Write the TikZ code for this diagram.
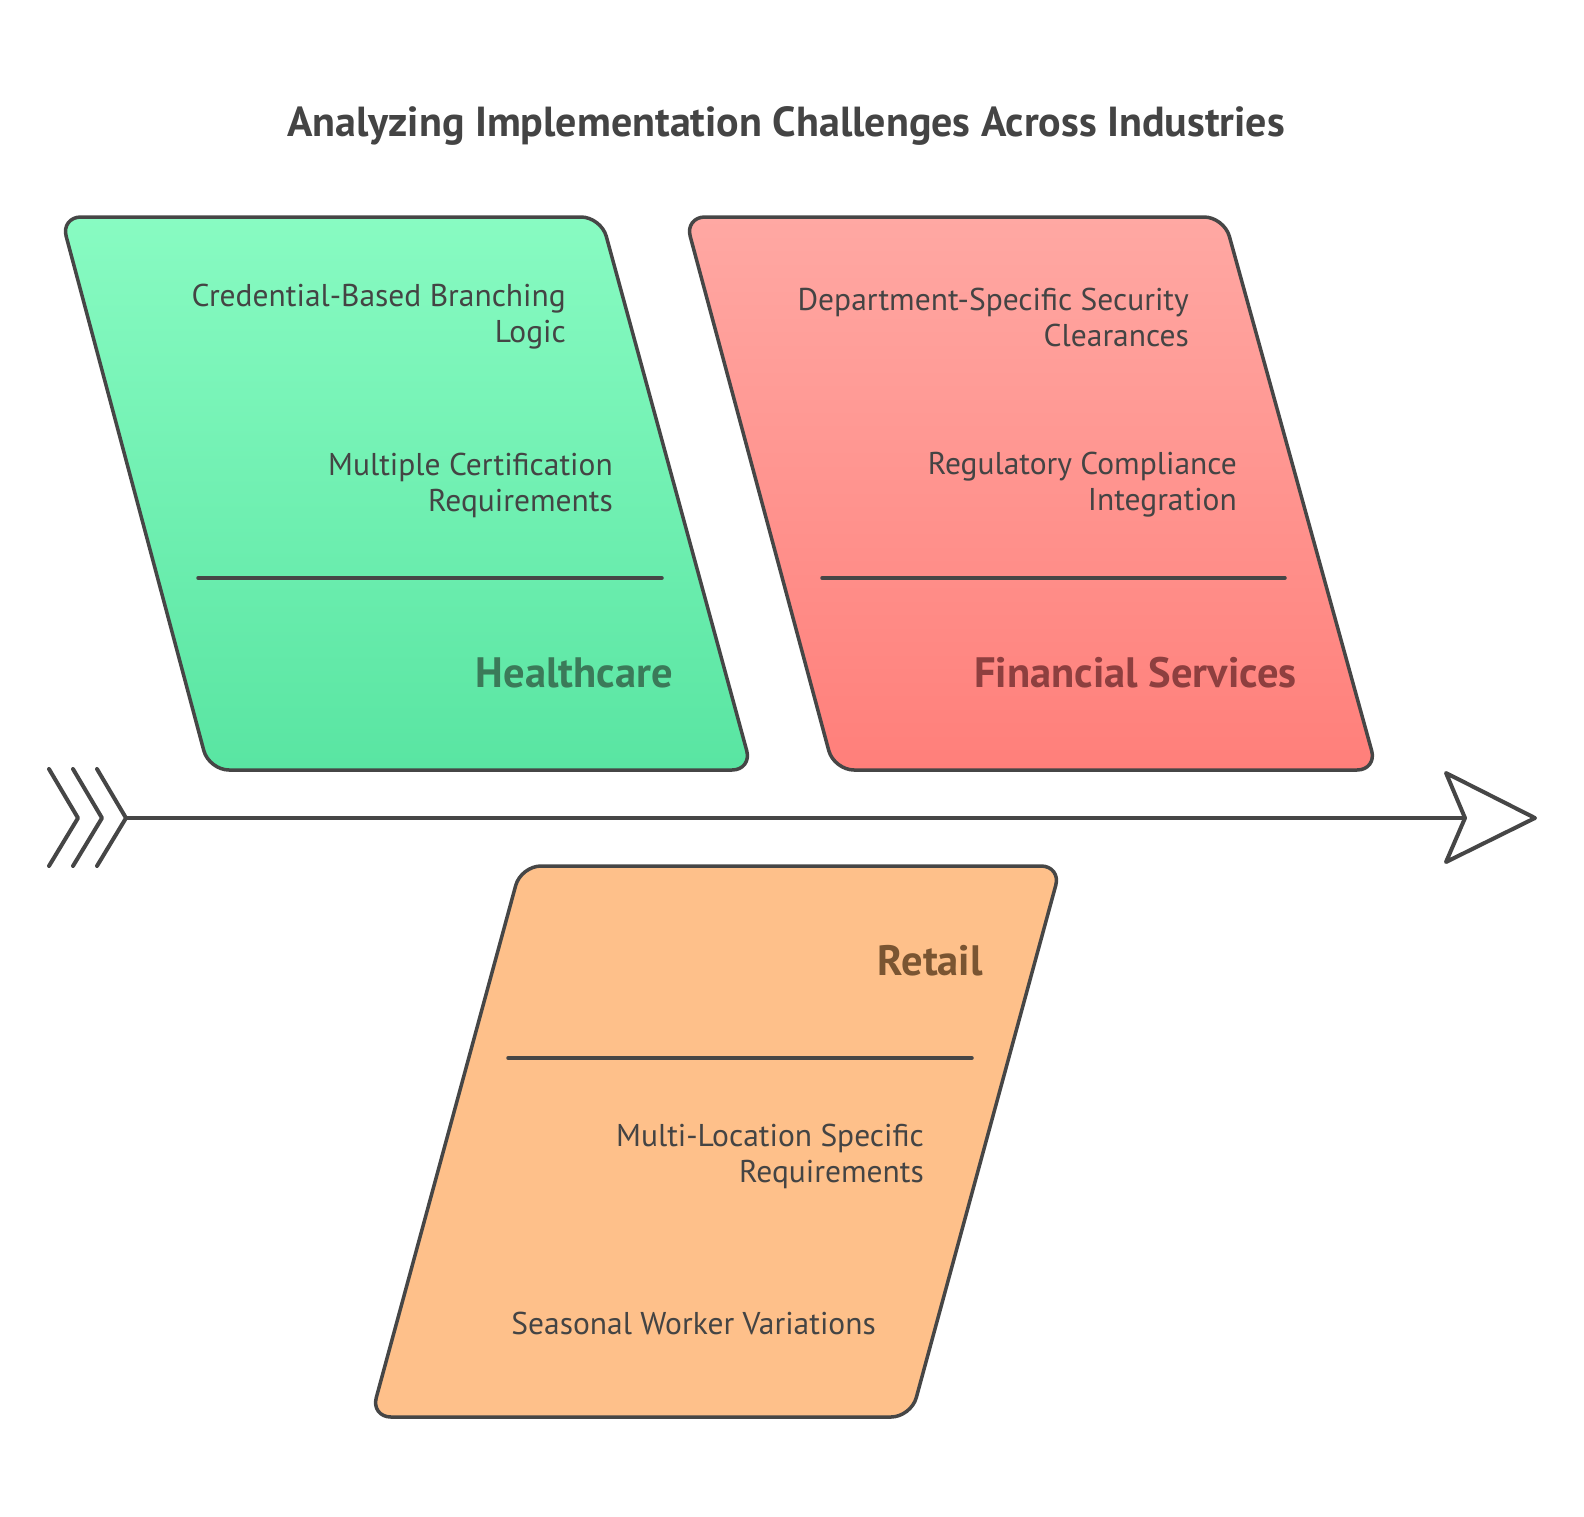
\documentclass[tikz,border=0pt]{standalone}
\usepackage{fontspec}
\setmainfont{PT Sans}
\usetikzlibrary{positioning}

\definecolor{edge}{HTML}{464646}
\definecolor{ink}{HTML}{444444}
\definecolor{hcTop}{HTML}{88FBC2}
\definecolor{hcBot}{HTML}{59E5A2}
\definecolor{hcInk}{HTML}{3B7A59}
\definecolor{fsTop}{HTML}{FFA8A3}
\definecolor{fsBot}{HTML}{FF7F7A}
\definecolor{fsInk}{HTML}{8E3F3F}
\definecolor{rtFill}{HTML}{FEC08A}
\definecolor{rtInk}{HTML}{7A5532}

\begin{document}
\begin{tikzpicture}[x=1pt,y=-1pt,line join=round,
    band/.style={draw=edge,line width=3.5pt,rounded corners=20pt},
    item/.style={anchor=east,align=right,text=ink,inner sep=0pt,
      font=\fontsize{31.5}{36}\selectfont},
    head/.style={anchor=east,inner sep=0pt,font=\fontsize{42.5}{48}\selectfont\bfseries},
    rule/.style={draw=edge,line width=3.5pt,line cap=round}]

  \useasboundingbox (0,0) rectangle (1584,1517);

  \node[text=ink,font=\fontsize{42}{48}\selectfont\bfseries] (title) at (786,126)
    {Analyzing Implementation Challenges Across Industries};

  % healthcare
  \path[band,top color=hcTop,bottom color=hcBot]
    (61,217) -- (601,217) -- (752,770) -- (209,770) -- cycle;
  \node[item] (cred) at (566,317) {Credential-Based Branching\\Logic};
  \node[item] (cert) at (613,485) {Multiple Certification\\Requirements};
  \draw[rule] (198,578) -- (662,578);
  \node[head,text=hcInk] (hc) at (673,673) {Healthcare};

  % financial services
  \path[band,top color=fsTop,bottom color=fsBot]
    (685,217) -- (1224,217) -- (1377,770) -- (834,770) -- cycle;
  \node[item] (dept) at (1189,317) {Department-Specific Security\\Clearances};
  \node[item] (reg) at (1237,485) {Regulatory Compliance\\Integration};
  \draw[rule] (822,578) -- (1285,578);
  \node[head,text=fsInk] (fs) at (1297,673) {Financial Services};

  % retail
  \path[band,fill=rtFill]
    (521,866) -- (1061,866) -- (911,1417) -- (371,1417) -- cycle;
  \node[head,text=rtInk] (rt) at (983,961) {Retail};
  \draw[rule] (508,1058) -- (972,1058);
  \node[item] (loc) at (924,1156) {Multi-Location Specific\\Requirements};
  \node[item] (seas) at (876,1323) {Seasonal Worker Variations};

  % spine
  \coordinate (tail) at (126,818);
  \coordinate (head) at (1465,818);
  \draw[edge,line width=4pt] (tail) -- (head);
  \foreach \x in {49,73,97}
    \draw[edge,line width=4pt,line cap=round] (\x,769) -- (\x+29,818) -- (\x,866);
  \draw[edge,line width=4pt,fill=white]
    (head) -- (1446,773) -- (1535,818) -- (1446,862) -- cycle;

\end{tikzpicture}
\end{document}
